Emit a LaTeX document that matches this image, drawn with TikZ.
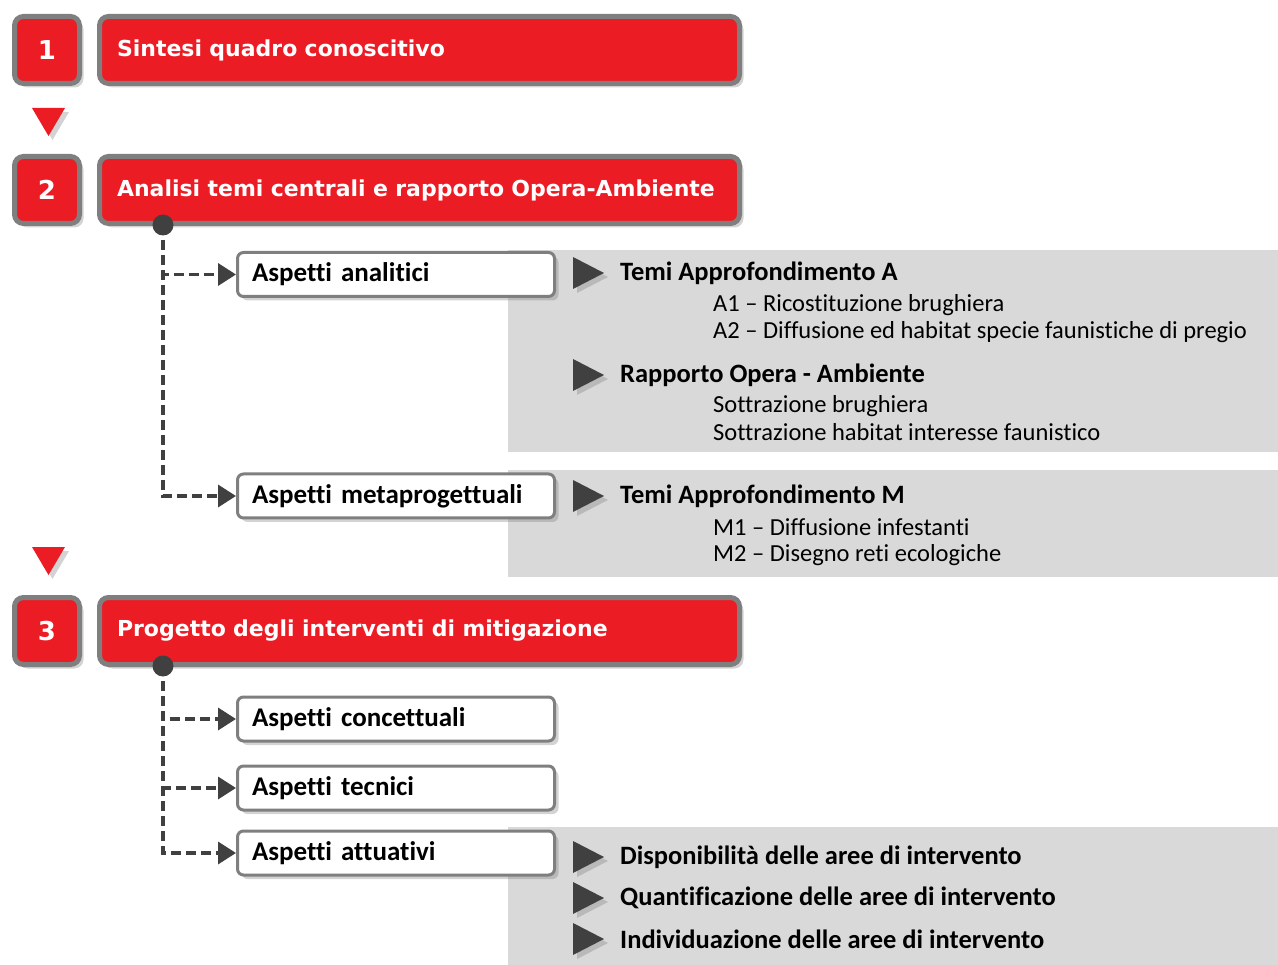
\documentclass[tikz,border=0pt]{standalone}
\usepackage{fontspec}
\setmainfont{DejaVu Sans}
\newfontfamily\narrowfont[Ligatures=NoCommon]{Carlito}
\usetikzlibrary{arrows.meta,shadows,positioning}

\definecolor{stepred}{HTML}{EC1C24}
\definecolor{rimgray}{HTML}{7F7F7F}
\definecolor{panelgray}{HTML}{D9D9D9}
\definecolor{inkgray}{HTML}{404040}

\tikzset{
  softshadow/.style={drop shadow={opacity=0.35,shadow xshift=4pt,shadow yshift=-4pt}},
  redbox/.style={draw=rimgray, line width=5pt, fill=stepred, rounded corners=9pt,
    minimum height=67pt, text=white, font=\bfseries\fontsize{22}{26}\selectfont, softshadow},
  numbox/.style={redbox, minimum width=65pt, inner sep=0pt, font=\bfseries\fontsize{26}{30}\selectfont},
  titlebox/.style={redbox, text width=605pt, inner xsep=17.5pt, align=left},
  whitebox/.style={draw=rimgray, line width=3pt, fill=white, rounded corners=6pt,
    minimum height=44pt, text width=288pt, inner xsep=14.5pt, align=left,
    font=\narrowfont\bfseries\fontsize{27}{30}\selectfont, softshadow},
  heading/.style={anchor=west, inner sep=0pt, font=\narrowfont\bfseries\fontsize{26.5}{30}\selectfont},
  subline/.style={anchor=west, inner sep=0pt, font=\narrowfont\fontsize{24.5}{28}\selectfont},
  flow/.style={draw=inkgray, line width=3.5pt, dash pattern=on 10pt off 5pt,
    -{Triangle[length=18pt,width=22pt]}},
  hub/.style={circle, fill=inkgray, minimum size=21pt, inner sep=0pt},
}
\newcommand{\redmark}[2]{\fill[stepred, softshadow] (#1-16.5,#2-14) -- (#1+16.5,#2-14) -- (#1,#2+14) -- cycle;}
\newcommand{\graymark}[2]{\fill[inkgray, softshadow] (#1,#2-16) -- (#1+31,#2) -- (#1,#2+16) -- cycle;}

\begin{document}
\begin{tikzpicture}[x=1pt,y=-1pt]
  \useasboundingbox (0,0) rectangle (1278,965);

  % grey panels
  \fill[panelgray] (508,250) rectangle (1278,452);
  \fill[panelgray] (508,470) rectangle (1278,577);
  \fill[panelgray] (508,827) rectangle (1278,965);

  % steps
  \node[numbox] (n1) at (47,50) {1};
  \node[titlebox, right=15pt of n1] (t1) {Sintesi quadro conoscitivo};
  \redmark{48.5}{122}
  \node[numbox] (n2) at (47,190) {2};
  \node[titlebox, right=15pt of n2] (t2) {Analisi temi centrali e rapporto Opera-Ambiente};
  \redmark{48.5}{561}
  \node[numbox] (n3) at (47,631) {3};
  \node[titlebox, right=15pt of n3] (t3) {Progetto degli interventi di mitigazione};

  % aspects
  \node[whitebox] (analitici) at (396,274.5) {Aspetti analitici};
  \node[whitebox] (metaprog) at (396,496) {Aspetti metaprogettuali};
  \node[whitebox] (concett) at (396,719) {Aspetti concettuali};
  \node[whitebox] (tecnici) at (396,788) {Aspetti tecnici};
  \node[whitebox] (attuat) at (396,853) {Aspetti attuativi};

  \coordinate (hub2) at (163,225);
  \coordinate (hub3) at (163,666);
  \draw[flow] (hub2) |- (analitici);
  \draw[flow] (hub2) |- (metaprog);
  \draw[flow] (hub3) |- (concett);
  \draw[flow] (hub3) |- (tecnici);
  \draw[flow] (hub3) |- (attuat);
  \node[hub] at (hub2) {};
  \node[hub] at (hub3) {};

  % panel texts
  \graymark{573}{273}
  \node[heading] (temiA) at (620,273) {Temi Approfondimento A};
  \node[subline] (a1) at (713,305) {A1 – Ricostituzione brughiera};
  \node[subline] (a2) at (713,332) {A2 – Diffusione ed habitat specie faunistiche di pregio};
  \graymark{573}{375}
  \node[heading] (rapporto) at (620,375) {Rapporto Opera - Ambiente};
  \node[subline] (s1) at (713,406) {Sottrazione brughiera};
  \node[subline] (s2) at (713,432) {Sottrazione habitat interesse faunistico};
  \graymark{573}{496}
  \node[heading] (temiM) at (620,496) {Temi Approfondimento M};
  \node[subline] (m1) at (713,527) {M1 – Diffusione infestanti};
  \node[subline] (m2) at (713,555) {M2 – Disegno reti ecologiche};
  \graymark{573}{857}
  \node[heading] (dispon) at (620,857) {Disponibilità delle aree di intervento};
  \graymark{573}{898}
  \node[heading] (quantif) at (620,898) {Quantificazione delle aree di intervento};
  \graymark{573}{939}
  \node[heading] (individ) at (620,939) {Individuazione delle aree di intervento};
\end{tikzpicture}
\end{document}
